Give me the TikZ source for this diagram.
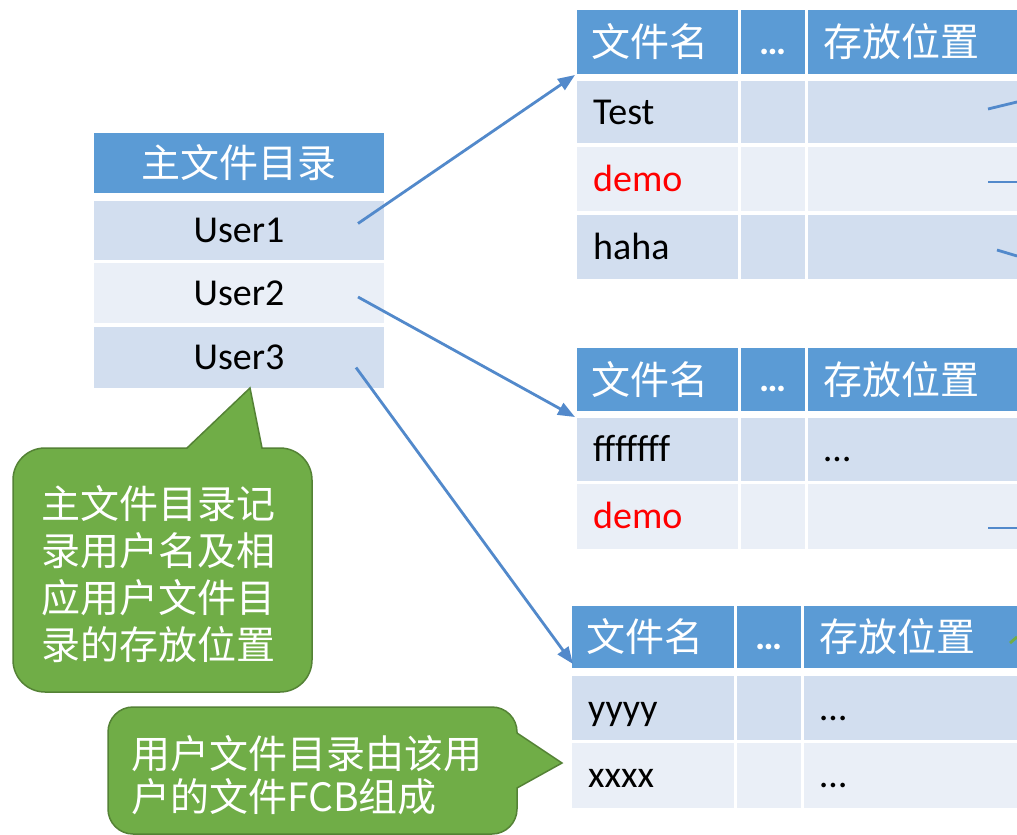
\documentclass[tikz,border=0pt]{standalone}
\usepackage{fontspec}
\setmainfont{Carlito}
\newfontfamily\cjk{Noto Sans CJK SC}
\usetikzlibrary{arrows.meta,fit,calc}

\definecolor{hdrblue}{HTML}{5B9BD5}
\definecolor{rowA}{HTML}{D2DEEF}
\definecolor{rowB}{HTML}{EAEFF7}
\definecolor{linkblue}{HTML}{5289CB}
\definecolor{notegreen}{HTML}{70AD47}
\definecolor{noteedge}{HTML}{548235}
\definecolor{redname}{HTML}{FF0000}

% one table cell: name, style, x1, y1, x2, y2
\newcommand\tcell[6]{\node[#2, fit={(#3,#4) (#5,#6)}] (#1) {};}

\begin{document}
\begin{tikzpicture}[x=1pt,y=-1pt,
  cellbase/.style={rectangle, inner sep=0pt, outer sep=0pt, draw=none},
  hcell/.style={cellbase, fill=hdrblue},
  acell/.style={cellbase, fill=rowA},
  bcell/.style={cellbase, fill=rowB},
  htext/.style={inner sep=0pt, text=white, font=\cjk\fontsize{39}{46}\selectfont},
  hdots/.style={inner sep=0pt, text=white, font=\bfseries\fontsize{38}{46}\selectfont},
  rtext/.style={inner sep=0pt, anchor=base west, font=\fontsize{38}{46}\selectfont},
  link/.style={draw=linkblue, line width=2.8pt, -{Triangle[length=17pt,width=13pt]}},
  stub/.style={draw=linkblue, line width=2.8pt},
  bubble/.style={fill=notegreen, draw=noteedge, line width=1.5pt},
  btext/.style={inner sep=0pt, text=white, align=left, anchor=west}
]
\useasboundingbox (0,0) rectangle (1017,835);
\fill[white] (0,0) rectangle (1017,835);

% ---------- master directory ----------
\tcell{mh}{hcell}{94}{133}{384}{193}
\tcell{mu1}{acell}{94}{201}{384}{260}
\tcell{mu2}{bcell}{94}{263}{384}{323}
\tcell{mu3}{acell}{94}{327}{384}{388}
\node[htext] (mht) at (mh.center) {主文件目录};
\node[rtext, anchor=base] (mu1t) at ($(mu1.center)+(0,12)$) {User1};
\node[rtext, anchor=base] (mu2t) at ($(mu2.center)+(0,12)$) {User2};
\node[rtext, anchor=base] (mu3t) at ($(mu3.center)+(0,12)$) {User3};

% ---------- user directory 1 ----------
\tcell{ah1}{hcell}{577}{10}{738}{74}
\tcell{ah2}{hcell}{741}{10}{805}{74}
\tcell{ah3}{hcell}{808}{10}{1017}{74}
\tcell{a11}{acell}{577}{81}{738}{143}
\tcell{a12}{acell}{741}{81}{805}{143}
\tcell{a13}{acell}{808}{81}{1017}{143}
\tcell{a21}{bcell}{577}{147}{738}{211}
\tcell{a22}{bcell}{741}{147}{805}{211}
\tcell{a23}{bcell}{808}{147}{1017}{211}
\tcell{a31}{acell}{577}{215}{738}{279}
\tcell{a32}{acell}{741}{215}{805}{279}
\tcell{a33}{acell}{808}{215}{1017}{279}
\node[htext, anchor=west] (ah1t) at ($(ah1.west)+(14,0)$) {文件名};
\node[hdots, anchor=base] (ah2t) at ($(ah2.center)+(0,12)$) {…};
\node[htext, anchor=west] (ah3t) at ($(ah3.west)+(15,0)$) {存放位置};
\node[rtext] (a11t) at ($(a11.west)+(16,12)$) {Test};
\node[rtext, text=redname] (a21t) at ($(a21.west)+(16,12)$) {demo};
\node[rtext] (a31t) at ($(a31.west)+(16,12)$) {haha};

% ---------- user directory 2 ----------
\tcell{bh1}{hcell}{577}{348}{738}{411}
\tcell{bh2}{hcell}{741}{348}{805}{411}
\tcell{bh3}{hcell}{808}{348}{1017}{411}
\tcell{b11}{acell}{577}{418}{738}{481}
\tcell{b12}{acell}{741}{418}{805}{481}
\tcell{b13}{acell}{808}{418}{1017}{481}
\tcell{b21}{bcell}{577}{484}{738}{549}
\tcell{b22}{bcell}{741}{484}{805}{549}
\tcell{b23}{bcell}{808}{484}{1017}{549}
\node[htext, anchor=west] (bh1t) at ($(bh1.west)+(14,0)$) {文件名};
\node[hdots, anchor=base] (bh2t) at ($(bh2.center)+(0,12)$) {…};
\node[htext, anchor=west] (bh3t) at ($(bh3.west)+(15,0)$) {存放位置};
\node[rtext] (b11t) at ($(b11.west)+(16,12)$) {fffffff};
\node[rtext] (b13t) at ($(b13.west)+(16,12)$) {…};
\node[rtext, text=redname] (b21t) at ($(b21.west)+(16,12)$) {demo};

% ---------- user directory 3 ----------
\tcell{ch1}{hcell}{572}{606}{734}{668}
\tcell{ch2}{hcell}{737}{606}{801}{668}
\tcell{ch3}{hcell}{804}{606}{1017}{668}
\tcell{c11}{acell}{572}{676}{734}{740}
\tcell{c12}{acell}{737}{676}{801}{740}
\tcell{c13}{acell}{804}{676}{1017}{740}
\tcell{c21}{bcell}{572}{743}{734}{808}
\tcell{c22}{bcell}{737}{743}{801}{808}
\tcell{c23}{bcell}{804}{743}{1017}{808}
\node[htext, anchor=west] (ch1t) at ($(ch1.west)+(14,0)$) {文件名};
\node[hdots, anchor=base] (ch2t) at ($(ch2.center)+(0,12)$) {…};
\node[htext, anchor=west] (ch3t) at ($(ch3.west)+(15,0)$) {存放位置};
\node[rtext] (c11t) at ($(c11.west)+(16,12)$) {yyyy};
\node[rtext] (c13t) at ($(c13.west)+(16,12)$) {…};
\node[rtext] (c21t) at ($(c21.west)+(16,12)$) {xxxx};
\node[rtext] (c23t) at ($(c23.west)+(16,12)$) {…};

% ---------- links from the master directory ----------
\coordinate (u1s) at ($(mu1.east)+(-26,-7)$);
\coordinate (u2s) at ($(mu2.east)+(-26,4)$);
\coordinate (u3s) at ($(mu3.east)+(-28,10)$);
\draw[link] (u1s) -- ($(ah1.south west)+(-2,1)$);
\draw[link] (u2s) -- ($(bh1.south west)+(-2,6)$);
\draw[link] (u3s) -- ($(ch1.south west)+(1,-4)$);

% pointers leaving the storage column
\coordinate (p1) at (988,109);  \coordinate (q1) at (1017,102);
\coordinate (p2) at (988,182);  \coordinate (q2) at (1017,182);
\coordinate (p3) at (997,250);  \coordinate (q3) at (1017,256);
\coordinate (p4) at (988,528);  \coordinate (q4) at (1017,528);
\draw[stub] (p1) -- (q1);
\draw[stub] (p2) -- (q2);
\draw[stub] (p3) -- (q3);
\draw[stub] (p4) -- (q4);
\coordinate (g1) at (1010,643); \coordinate (g2) at (1017,637);
\draw[draw=notegreen, line width=2.8pt] (g1) -- (g2);

% ---------- callout: master directory ----------
\path[bubble] (187,448) -- (250,388) -- (262,448) -- (280,448)
  .. controls (297.7,448) and (312,462.3) .. (312,480) -- (312,660)
  .. controls (312,677.7) and (297.7,692) .. (280,692) -- (45,692)
  .. controls (27.3,692) and (13,677.7) .. (13,660) -- (13,480)
  .. controls (13,462.3) and (27.3,448) .. (45,448) -- cycle;
\node[btext, font=\cjk\fontsize{39}{47}\selectfont] (note1) at (41,574)
  {主文件目录记\\录用户名及相\\应用户文件目\\录的存放位置};

% ---------- callout: user directory ----------
\path[bubble] (517,788) -- (562,763) -- (517,733) -- (517,732)
  .. controls (517,718.2) and (505.8,707) .. (492,707) -- (133,707)
  .. controls (119.2,707) and (108,718.2) .. (108,732) -- (108,809)
  .. controls (108,822.8) and (119.2,834) .. (133,834) -- (492,834)
  .. controls (505.8,834) and (517,822.8) .. (517,809) -- cycle;
\node[btext, font=\cjk\fontsize{39}{43}\selectfont] (note2) at (131,775)
  {用户文件目录由该用\\户的文件FCB组成};
\end{tikzpicture}
\end{document}
